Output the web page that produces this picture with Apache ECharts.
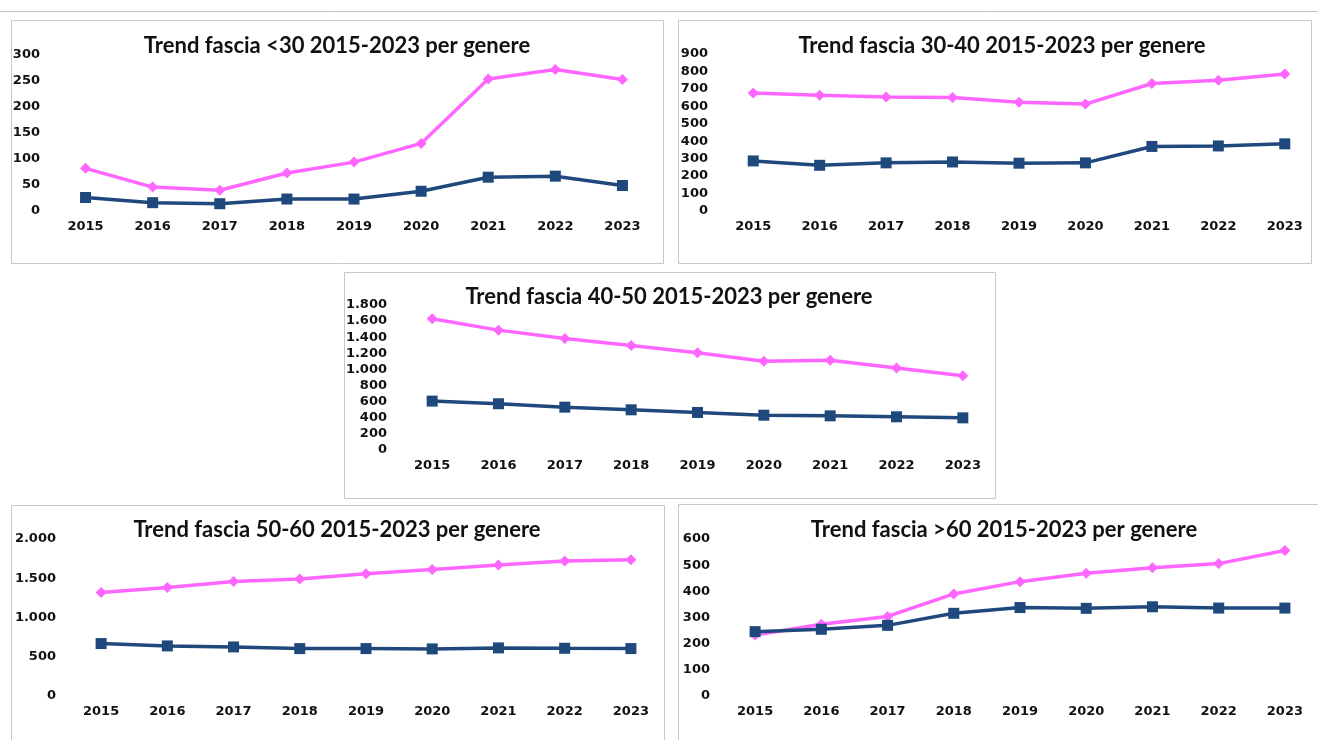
<!DOCTYPE html>
<html>
<head>
<meta charset="utf-8">
<title>Trend fasce di età 2015-2023 per genere</title>
<script src="https://cdn.jsdelivr.net/npm/echarts@6/dist/echarts.min.js"></script>
<style>
  html, body { margin: 0; padding: 0; background: #fff; }
  #chart { width: 1318px; height: 740px; }
</style>
</head>
<body>
<div id="chart"></div>
<script>
// anni (categorie)
const years = ['2015', '2016', '2017', '2018', '2019', '2020', '2021', '2022', '2023']

// fascia <30
const femmine30 = [82, 46, 40, 73, 94, 130, 254, 272, 253]
const maschi30 = [26, 16, 14, 23, 23, 38, 65, 67, 49]
// fascia 30-40
const femmine3040 = [676, 664, 653, 651, 624, 613, 731, 749, 785]
const maschi3040 = [287, 262, 276, 281, 274, 276, 370, 373, 385]
// fascia 40-50
const femmine4050 = [1630, 1488, 1384, 1297, 1206, 1102, 1114, 1018, 923]
const maschi4050 = [607, 574, 532, 499, 466, 432, 424, 412, 399]
// fascia 50-60
const femmine5060 = [1319, 1383, 1459, 1489, 1557, 1613, 1668, 1719, 1736]
const maschi5060 = [668, 638, 625, 604, 604, 600, 613, 608, 604]
// fascia >60
const femmine60 = [233, 274, 304, 390, 437, 469, 490, 506, 556]
const maschi60 = [246, 255, 270, 316, 338, 335, 341, 336, 336]

const titles = [
  'Trend fascia <30 2015-2023 per genere',
  'Trend fascia 30-40 2015-2023 per genere',
  'Trend fascia 40-50 2015-2023 per genere',
  'Trend fascia 50-60 2015-2023 per genere',
  'Trend fascia >60 2015-2023 per genere',
]
const yMax = [300, 900, 1800, 2000, 600]
const yStep = [50, 100, 200, 500, 100]
const femmine = [femmine30, femmine3040, femmine4050, femmine5060, femmine60]
const maschi = [maschi30, maschi3040, maschi4050, maschi5060, maschi60]

// layout dei pannelli (pixel)
const panels = [
  { box: [11, 20, 652, 243], grid: { left: 52, top: 55, width: 604, height: 156 }, title: [337, 46] },
  { box: [678, 20, 633, 243], grid: { left: 720, top: 54, width: 608, height: 157 }, title: [1002, 46] },
  { box: [344, 272, 651, 226], grid: { left: 399, top: 305, width: 597, height: 145 }, title: [669, 297] },
  { box: [11, 505, 653, 250], grid: { left: 68, top: 539, width: 596, height: 157 }, title: [337, 530] },
  { box: [678, 504, 650, 250], grid: { left: 722, top: 539, width: 604, height: 157 }, title: [1004, 530] },
]

const PINK = '#ff66ff'
const BLUE = '#1f497d'
const labelFont = { color: '#111', fontFamily: 'DejaVu Sans', fontWeight: 'bold', fontSize: 13 }

const fmt = (v) => String(v).replace(/\B(?=(\d{3})+(?!\d))/g, '.')

const chart = echarts.init(document.getElementById('chart'))

const option = {
  animation: false,
  backgroundColor: '#fff',
  grid: panels.map(p => p.grid),
  xAxis: panels.map((p, i) => ({
    type: 'category',
    gridIndex: i,
    data: years,
    boundaryGap: true,
    axisLine: { show: false },
    axisTick: { show: false },
    axisLabel: { ...labelFont, margin: 9 },
  })),
  yAxis: panels.map((p, i) => ({
    type: 'value',
    gridIndex: i,
    min: 0,
    max: yMax[i],
    interval: yStep[i],
    axisLine: { show: false },
    axisTick: { show: false },
    splitLine: { show: false },
    axisLabel: { ...labelFont, margin: 12, formatter: fmt },
  })),
  series: [],
  graphic: [
    {
      type: 'line',
      shape: { x1: 0, y1: 11.5, x2: 1318, y2: 11.5 },
      style: { stroke: '#c4c4c4', lineWidth: 1 },
    },
  ],
}

panels.forEach((p, i) => {
  option.graphic.push({
    type: 'rect',
    shape: { x: p.box[0] + 0.5, y: p.box[1] + 0.5, width: p.box[2], height: p.box[3] },
    style: { fill: null, stroke: '#c8c8c8', lineWidth: 1 },
  })
  option.graphic.push({
    type: 'text',
    x: p.title[0],
    y: p.title[1],
    style: {
      text: titles[i],
      align: 'center',
      verticalAlign: 'middle',
      fill: '#111',
      font: 'bold 22px Lato',
    },
  })
  option.series.push({
    name: 'Femmine',
    type: 'line',
    xAxisIndex: i,
    yAxisIndex: i,
    data: femmine[i],
    symbol: 'diamond',
    symbolSize: 11,
    lineStyle: { color: PINK, width: 3.5 },
    itemStyle: { color: PINK },
  })
  option.series.push({
    name: 'Maschi',
    type: 'line',
    xAxisIndex: i,
    yAxisIndex: i,
    data: maschi[i],
    symbol: 'rect',
    symbolSize: 11,
    lineStyle: { color: BLUE, width: 3.5 },
    itemStyle: { color: BLUE },
  })
})

chart.setOption(option)

window.addEventListener('resize', () => {
  chart.resize()
})
</script>
</body>
</html>
